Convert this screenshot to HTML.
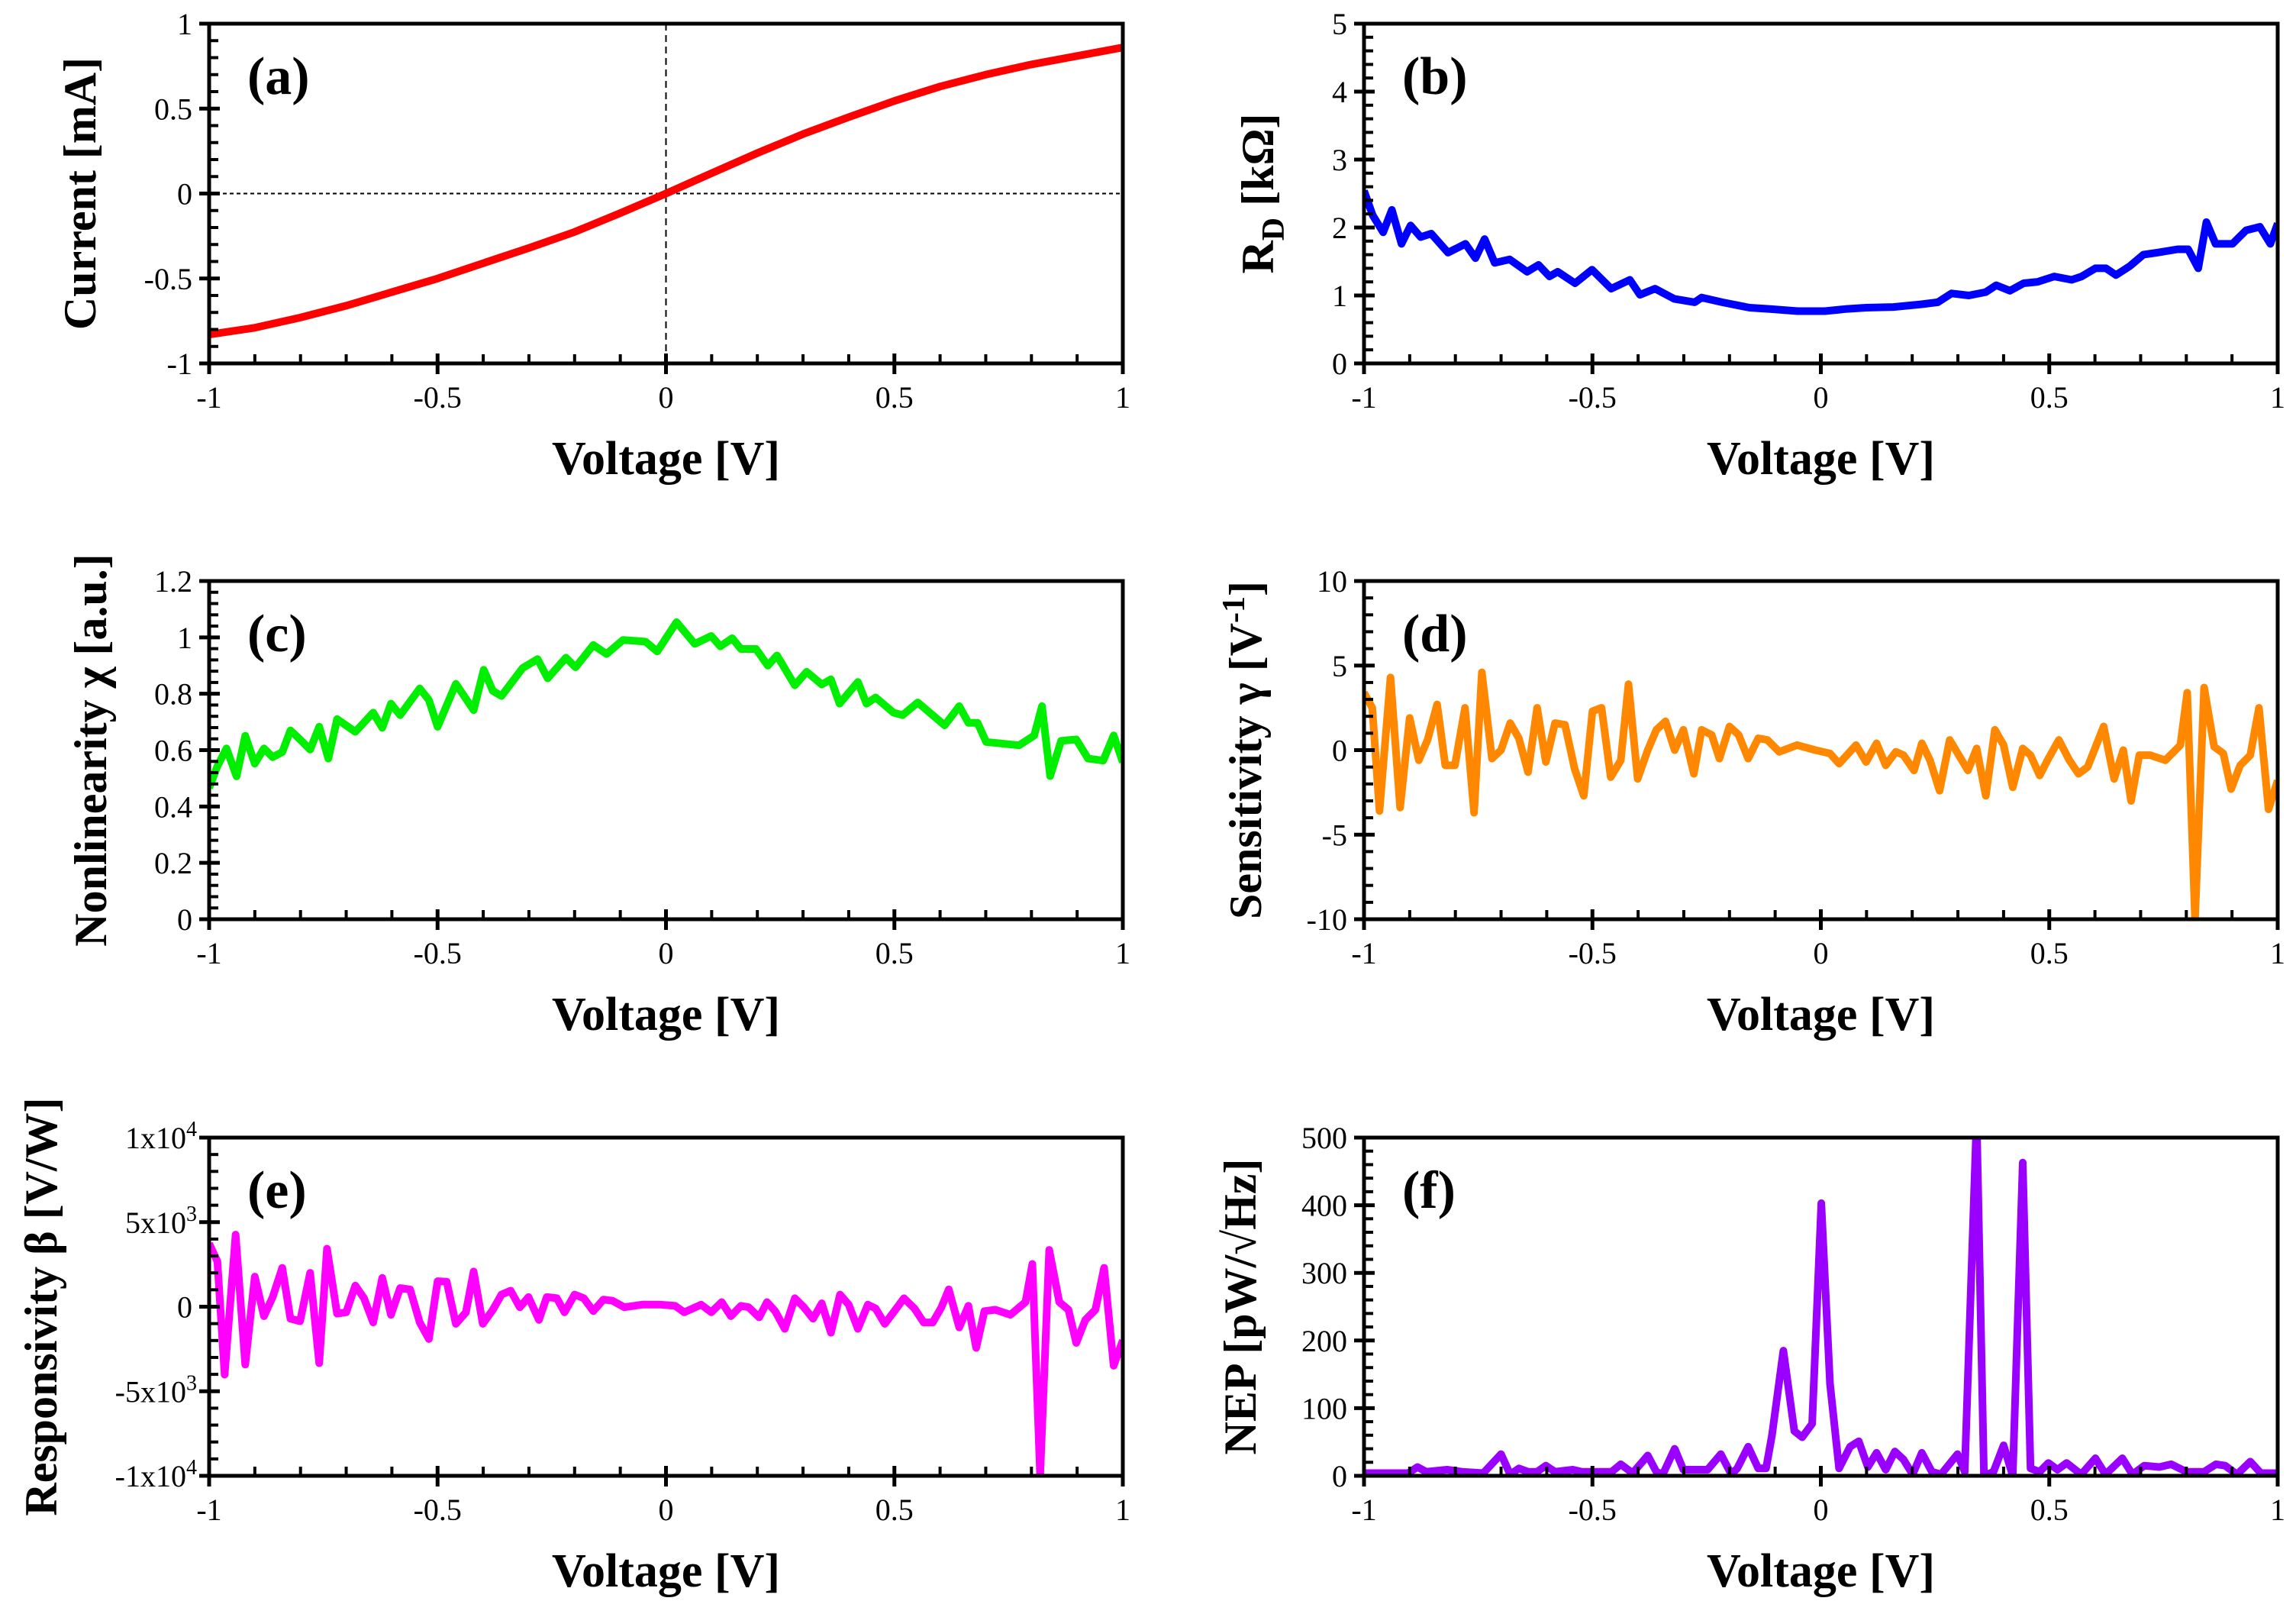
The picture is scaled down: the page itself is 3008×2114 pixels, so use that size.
<!DOCTYPE html>
<html><head><meta charset="utf-8">
<style>
html,body{margin:0;padding:0;background:#fff;}
svg{display:block;}
svg text{font-family:"Liberation Serif","Times New Roman",serif;}
</style></head>
<body>
<svg id="fig" width="3008" height="2114" viewBox="0 0 3008 2114" xmlns="http://www.w3.org/2000/svg" font-family="Liberation Serif, serif">
<rect width="3008" height="2114" fill="#fff"/>
</svg>
<script>
// ---- data (a) ----
const aV = [-1,-0.9,-0.8,-0.7,-0.6,-0.5,-0.4,-0.3,-0.2,-0.1,0,0.1,0.2,0.3,0.4,0.5,0.6,0.7,0.8,0.9,1];
const aI = [-0.83,-0.79,-0.73,-0.66,-0.58,-0.50,-0.41,-0.32,-0.226,-0.115,0,0.12,0.238,0.35,0.45,0.545,0.63,0.70,0.76,0.81,0.86];
// ---- data (b) ----
const bV = [-1,-0.981,-0.958,-0.939,-0.918,-0.898,-0.876,-0.853,-0.816,-0.778,-0.756,-0.736,-0.714,-0.681,-0.643,-0.618,-0.594,-0.576,-0.538,-0.501,-0.459,-0.418,-0.396,-0.363,-0.321,-0.276,-0.261,-0.216,-0.156,-0.111,-0.051,0.009,0.054,0.099,0.159,0.219,0.256,0.286,0.324,0.361,0.384,0.414,0.444,0.474,0.511,0.549,0.571,0.601,0.624,0.646,0.676,0.706,0.736,0.781,0.804,0.826,0.844,0.864,0.901,0.931,0.961,0.984,1.0];
const bR = [2.54,2.18,1.93,2.26,1.76,2.03,1.86,1.91,1.63,1.76,1.55,1.83,1.48,1.53,1.35,1.45,1.28,1.35,1.18,1.38,1.10,1.23,1.01,1.10,0.95,0.90,0.97,0.90,0.82,0.80,0.77,0.77,0.80,0.82,0.83,0.87,0.90,1.03,1.00,1.05,1.15,1.07,1.18,1.20,1.28,1.23,1.28,1.40,1.40,1.30,1.43,1.60,1.63,1.68,1.68,1.40,2.08,1.76,1.76,1.96,2.01,1.76,2.06];
// ---- data (c) ----
const cV = [-1,-0.982,-0.962,-0.940,-0.921,-0.900,-0.880,-0.861,-0.840,-0.822,-0.798,-0.779,-0.759,-0.739,-0.720,-0.680,-0.641,-0.621,-0.602,-0.582,-0.539,-0.519,-0.500,-0.460,-0.421,-0.399,-0.379,-0.360,-0.314,-0.281,-0.259,-0.219,-0.198,-0.159,-0.130,-0.094,-0.045,-0.019,0.023,0.063,0.099,0.119,0.145,0.164,0.197,0.223,0.243,0.282,0.308,0.341,0.361,0.380,0.420,0.439,0.459,0.498,0.518,0.551,0.610,0.642,0.662,0.682,0.701,0.773,0.806,0.823,0.841,0.865,0.898,0.924,0.957,0.980,1.000];
const cX = [0.466,0.543,0.606,0.507,0.651,0.552,0.606,0.575,0.593,0.670,0.633,0.602,0.683,0.570,0.710,0.665,0.733,0.679,0.765,0.724,0.819,0.778,0.683,0.835,0.742,0.885,0.810,0.792,0.891,0.923,0.855,0.928,0.894,0.973,0.941,0.991,0.985,0.950,1.054,0.977,1.005,0.968,0.997,0.959,0.959,0.900,0.936,0.830,0.878,0.833,0.851,0.765,0.842,0.765,0.787,0.733,0.724,0.769,0.688,0.756,0.697,0.697,0.629,0.617,0.652,0.756,0.508,0.633,0.638,0.570,0.563,0.652,0.557];
// ---- data (d) & (e) share voltages ----
const dV = [-1,-0.982,-0.966,-0.942,-0.921,-0.900,-0.880,-0.861,-0.840,-0.822,-0.801,-0.779,-0.759,-0.742,-0.720,-0.700,-0.680,-0.661,-0.641,-0.621,-0.602,-0.582,-0.560,-0.539,-0.519,-0.500,-0.480,-0.460,-0.438,-0.421,-0.401,-0.379,-0.360,-0.340,-0.320,-0.301,-0.278,-0.261,-0.239,-0.222,-0.200,-0.180,-0.159,-0.137,-0.117,-0.091,-0.052,-0.012,0.020,0.040,0.077,0.099,0.122,0.142,0.164,0.181,0.204,0.221,0.239,0.260,0.282,0.302,0.322,0.341,0.361,0.381,0.400,0.420,0.442,0.459,0.479,0.498,0.521,0.544,0.564,0.584,0.603,0.619,0.642,0.662,0.679,0.697,0.721,0.754,0.787,0.802,0.819,0.839,0.861,0.881,0.898,0.918,0.940,0.959,0.980,1.0];
const dG = [3.4,2.5,-3.6,4.3,-3.4,1.9,-0.6,0.6,2.7,-0.9,-0.9,2.5,-3.7,4.6,-0.5,0,1.6,0.7,-1.3,2.5,-0.7,1.6,1.5,-1.1,-2.7,2.3,2.5,-1.6,-0.6,3.9,-1.7,0,1.2,1.7,0,1.2,-1.4,1.2,0.9,-0.5,1.4,0.9,-0.5,0.7,0.6,-0.1,0.3,0,-0.2,-0.8,0.3,-0.7,0.4,-0.9,-0.1,-0.3,-1.2,0.4,-0.6,-2.4,0.6,-0.3,-1.2,0.1,-2.7,1.2,0.3,-2.2,0.1,-0.3,-1.5,-0.5,0.6,-0.6,-1.4,-1.0,0.3,1.4,-1.7,0,-3.0,-0.3,-0.3,-0.6,0.3,3.4,-10,3.7,0.2,-0.2,-2.3,-0.9,-0.3,2.5,-3.5,-1.8];
const eB = [3735,2680,-4020,4260,-3420,1780,-560,570,2300,-710,-860,2000,-3340,3430,-410,-330,1250,500,-930,1700,-480,1100,1020,-930,-1910,1510,1480,-1010,-330,2080,-1010,-180,720,950,-30,570,-780,570,500,-330,720,500,-260,420,350,-30,120,120,50,-330,120,-330,270,-560,50,-30,-630,270,-260,-1310,500,-30,-710,200,-1540,720,120,-1310,120,-110,-1010,-330,500,-110,-930,-930,-30,1020,-1230,50,-2440,-260,-180,-480,270,2530,-10000,3360,270,-180,-2140,-780,-180,2300,-3490,-1990];
// ---- data (f) ----
const fV = [-1,-0.903,-0.883,-0.864,-0.818,-0.785,-0.739,-0.700,-0.680,-0.661,-0.641,-0.621,-0.602,-0.582,-0.543,-0.523,-0.458,-0.438,-0.412,-0.379,-0.360,-0.346,-0.320,-0.301,-0.248,-0.219,-0.196,-0.183,-0.159,-0.137,-0.120,-0.107,-0.082,-0.058,-0.041,-0.019,0.001,0.020,0.040,0.064,0.083,0.103,0.122,0.142,0.162,0.181,0.201,0.221,0.243,0.263,0.299,0.315,0.341,0.357,0.378,0.400,0.420,0.442,0.459,0.479,0.498,0.518,0.538,0.570,0.601,0.623,0.660,0.682,0.708,0.741,0.767,0.800,0.839,0.865,0.885,0.911,0.940,0.963,1];
const fN = [4,4,13,6,9,6,4,32,2,11,6,6,15,6,9,6,6,17,4,30,6,2,40,9,9,32,2,11,43,11,11,60,185,66,57,77,403,136,11,43,51,13,34,9,36,24,2,34,6,2,32,6,530,0,6,45,0,463,11,6,19,9,19,2,26,2,26,2,15,13,17,6,6,17,15,2,21,4,4];
// ---- ticks ----
const xTickVals = [-1,-0.5,0,0.5,1];
const xTickLabels = ["-1","-0.5","0","0.5","1"];
const aTicks = [-1,-0.5,0,0.5,1], aLabels = ["-1","-0.5","0","0.5","1"];
const bTicks = [0,1,2,3,4,5], bLabels = ["0","1","2","3","4","5"];
const cTicks = [0,0.2,0.4,0.6,0.8,1,1.2], cLabels = ["0","0.2","0.4","0.6","0.8","1","1.2"];
const dTicks = [-10,-5,0,5,10], dLabels = ["-10","-5","0","5","10"];
const eTicks = [-10000,-5000,0,5000,10000], eMant = ["-1x10","-5x10","0","5x10","1x10"], eExp = ["4","3","","3","4"];
const fTicks = [0,100,200,300,400,500], fLabels = ["0","100","200","300","400","500"];

const NS = "http://www.w3.org/2000/svg";
const svg = document.getElementById('fig');
const FF = '"Liberation Serif", serif';
function mk(tag, attrs, parent){ const e=document.createElementNS(NS,tag); for(const k in attrs) e.setAttribute(k,attrs[k]); if(tag==='text') e.setAttribute('font-family',FF); (parent||svg).appendChild(e); return e; }

const COLS = [[274,1471],[1787,2984]];
const ROWS = [[31,476],[761,1204],[1490,1933]];

function panel(o){
  const [L,R]=COLS[o.col], [T,B]=ROWS[o.row];
  const g = mk('g',{});
  
  
  const sx = v => L + (v+1)/2*(R-L);
  const sy = v => B - (v-o.ymin)/(o.ymax-o.ymin)*(B-T);
  const clipId = 'clip'+o.name;
  const cp = mk('clipPath',{id:clipId},g); mk('rect',{x:L,y:T,width:R-L,height:B-T},cp);
  if(o.dashed){
    const d1 = mk('line',{x1:sx(0),x2:sx(0),y1:T,y2:B,stroke:'#000','stroke-width':2,'stroke-dasharray':'9,6'},g);
    
    
    const d2 = mk('line',{x1:L,x2:R,y1:sy(0),y2:sy(0),stroke:'#000','stroke-width':2,'stroke-dasharray':'5,4'},g);
    
    
  }
  let d=''; for(let i=0;i<o.xs.length;i++){ d += (i?'L':'M')+sx(o.xs[i]).toFixed(1)+','+sy(o.ys[i]).toFixed(1); }
  const p = mk('path',{d:d,fill:'none',stroke:o.color,'stroke-width':10,'stroke-linejoin':'round','clip-path':'url(#'+clipId+')'},g);
  
  
  const fr = mk('rect',{x:L,y:T,width:R-L,height:B-T,fill:'none',stroke:'#000','stroke-width':5},g);
  
  
  for(let k=0;k<=20;k++){ const v=-1+k*0.1; const x=sx(v);
    if(k%5===0) mk('line',{x1:x,x2:x,y1:B-13,y2:B+14,stroke:'#000','stroke-width':5},g);
    else mk('line',{x1:x,x2:x,y1:B-12,y2:B,stroke:'#000','stroke-width':4},g);
  }
  for(let i=0;i<xTickVals.length;i++){
    const t = mk('text',{x:sx(xTickVals[i]),y:B+58,'font-size':40,'text-anchor':'middle'},g);
    t.textContent = xTickLabels[i];
    
    
  }
  const nMinor = Math.round((o.ymax-o.ymin)/o.minor);
  for(let k=0;k<=nMinor;k++){ const v=o.ymin+k*o.minor; const y=sy(v);
    const isMaj = Math.abs(((v-o.ymin)/o.major)-Math.round((v-o.ymin)/o.major))<1e-6;
    if(isMaj) mk('line',{x1:L-13,x2:L+14,y1:y,y2:y,stroke:'#000','stroke-width':5},g);
    else mk('line',{x1:L,x2:L+12,y1:y,y2:y,stroke:'#000','stroke-width':4},g);
  }
  for(let i=0;i<o.ticks.length;i++){
    const t = mk('text',{x:L-22,y:sy(o.ticks[i])+14,'font-size':40,'text-anchor':'end'},g);
    if(o.exps && o.exps[i]){
      t.textContent = o.labels[i];
      const s = mk('tspan',{dy:-16,'font-size':28},t); s.textContent=o.exps[i];
      t.setAttribute('x', L-16);
    } else t.textContent = o.labels[i];
    
    
  }
  const xt = mk('text',{x:(L+R)/2,y:B+145,'font-size':62,'font-weight':'bold','text-anchor':'middle'},g);
  xt.textContent='Voltage [V]';
  
  
  const yt = mk('text',{x:0,y:0,'font-size':60,'font-weight':'bold','text-anchor':'middle',transform:'translate('+(o.ytx+20)+','+((T+B)/2)+') rotate(-90)'},g);
  yt.innerHTML = o.ytitle;
  
  
  const pl = mk('text',{x:L+50,y:T+92,'font-size':70,'font-weight':'bold'},g);
  pl.textContent = o.label;
  
  
}

panel({name:'panel-a',col:0,row:0,xs:aV,ys:aI,color:'#ff0000',ymin:-1,ymax:1,major:0.5,minor:0.1,ticks:aTicks,labels:aLabels,ytitle:'Current [mA]',ytx:105,label:'(a)',dashed:true});
panel({name:'panel-b',col:1,row:0,xs:bV,ys:bR,color:'#0000ff',ymin:0,ymax:5,major:1,minor:0.2,ticks:bTicks,labels:bLabels,ytitle:'R<tspan font-size="42" dy="14">D</tspan><tspan dy="-14"> [kΩ]</tspan>',ytx:1648,label:'(b)'});
panel({name:'panel-c',col:0,row:1,xs:cV,ys:cX,color:'#00ee00',ymin:0,ymax:1.2,major:0.2,minor:0.04,ticks:cTicks,labels:cLabels,ytitle:'Nonlinearity χ [a.u.]',ytx:119,label:'(c)'});
panel({name:'panel-d',col:1,row:1,xs:dV,ys:dG,color:'#ff8800',ymin:-10,ymax:10,major:5,minor:1,ticks:dTicks,labels:dLabels,ytitle:'Sensitivity γ [V<tspan font-size="42" dy="-22">-1</tspan><tspan dy="22">]</tspan>',ytx:1632,label:'(d)'});
panel({name:'panel-e',col:0,row:2,xs:dV,ys:eB,color:'#ff00ff',ymin:-10000,ymax:10000,major:5000,minor:1000,ticks:eTicks,labels:eMant,exps:eExp,ytitle:'Responsivity β [V/W]',ytx:54,label:'(e)'});
panel({name:'panel-f',col:1,row:2,xs:fV,ys:fN,color:'#9900ff',ymin:0,ymax:500,major:100,minor:20,ticks:fTicks,labels:fLabels,ytitle:'NEP [pW/√Hz]',ytx:1625,label:'(f)'});
</script>
</body></html>
